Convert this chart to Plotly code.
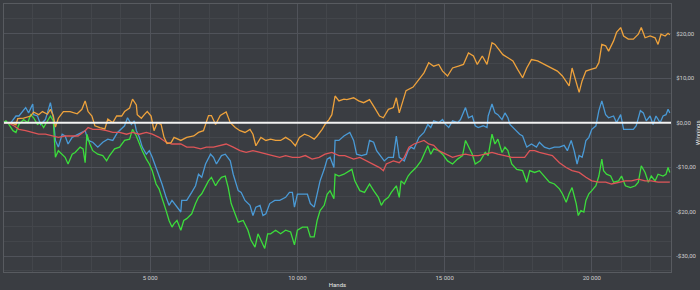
import plotly.graph_objects as go

# ---- data (hands, dollars) ----
orange_hands = [0, 100, 270, 440, 500, 700, 940, 1040, 1210, 1340, 1510, 1610, 1710, 1780, 1880, 2050, 2280, 2520, 2680, 2790, 2890, 3020, 3120, 3290, 3460, 3560, 3730, 3860, 4030, 4130, 4300, 4400, 4530, 4560, 4700, 4800, 4900, 5030, 5130, 5240, 5370, 5470, 5570, 5710,
                5810, 6040, 6240, 6480, 6640, 6810, 6980, 7080, 7220, 7380, 7580, 7720, 7890, 8050, 8220, 8390, 8490, 8590, 8760, 8930, 9090, 9260, 9430, 9600, 9770, 9930, 10070, 10240, 10400, 10570, 10670, 10840, 10940, 11070, 11170, 11280, 11410, 11580,
                11680, 11910, 12080, 12250, 12450, 12620, 12790, 12920, 13090, 13260, 13360, 13460, 13590, 13690, 13930, 14090, 14300, 14460, 14630, 14800, 14930, 15100, 15270, 15470, 15640, 15810, 15980, 16110, 16280, 16440, 16610, 16710, 16810, 16980, 17150, 17320, 17480,
                17650, 17790, 17950, 18160, 18390, 18620, 18830, 19000, 19130, 19230, 19330, 19470, 19570, 19670, 19800, 19970, 20140, 20240, 20340, 20470, 20570, 20740, 20840, 20980, 21080, 21240, 21410, 21580, 21680, 21810, 21980, 22150, 22250, 22350, 22490, 22590, 22650]
orange_vals = [0, 0, 0, -0.5, 0.9, 1.0, 1.5, 2.4, 1.8, 2.5, 1.9, 3.0, 1.5, -1.0, 1.0, 2.5, 2.5, 2.0, 3.0, 4.9, 2.5, 1.5, -0.7, -1.1, -1.4, 0.8, 0, 1.5, 1.5, 2.5, 3.3, 5.3, 4.0, 1.8, 1.0, 1.8, 2.5, 1.5, -1.8, 0, -0.4, -3.3, -4.7, -4.5,
               -3.3, -4.0, -3.3, -3.0, -2.2, -1.8, 1.6, 1.6, -0.4, 1.6, 2.4, 0, -1.1, -1.8, -2.2, -1.5, -2.6, -5.2, -3.3, -4.0, -3.7, -4.0, -4.0, -3.3, -4.0, -5.2, -3.3, -2.6, -3.0, -3.7, -3.0, -1.5, -0.4, 0.7, 1.8, 6.0, 4.9, 5.3,
               5.2, 5.6, 4.9, 4.5, 5.2, 3.4, 1.5, 1.1, 3.0, 3.4, 5.6, 2.2, 5.2, 7.2, 8.0, 9.4, 11.2, 13.5, 12.7, 13.1, 11.6, 10.5, 12.3, 12.7, 13.1, 15.7, 15.0, 13.1, 15.0, 13.1, 18.0, 17.6, 16.8, 15.3, 14.6, 13.9, 12.0,
               10.1, 12.3, 14.2, 13.9, 13.1, 12.3, 11.6, 10.5, 9.4, 8.3, 12.3, 9.0, 6.8, 9.4, 11.6, 12.0, 12.3, 13.5, 17.6, 17.3, 16.1, 18.4, 20.3, 21.4, 19.5, 18.8, 18.8, 19.9, 21.4, 19.1, 19.5, 19.1, 17.6, 19.9, 19.5, 20.1, 19.8]

blue_hands = [0, 100, 270, 440, 540, 770, 870, 1010, 1040, 1170, 1280, 1440, 1610, 1710, 1780, 1880, 2010, 2110, 2210, 2350, 2550, 2790, 2890, 3050, 3220, 3390, 3560, 3730, 3890, 4130, 4230, 4360, 4460, 4530, 4630, 4730, 4870, 4970, 5070, 5200, 5300, 5400, 5540, 5640, 5740,
              5910, 6040, 6070, 6240, 6410, 6540, 6640, 6750, 6880, 7050, 7150, 7250, 7420, 7550, 7720, 7820, 7990, 8090, 8220, 8390, 8490, 8590, 8730, 8830, 8930, 9060, 9230, 9400, 9600, 9730, 9830, 9900, 10000, 10170, 10340, 10440, 10570, 10670, 10770, 10910, 11010, 11110, 11240, 11280, 11410, 11580,
              11680, 11780, 11910, 12010, 12180, 12350, 12450, 12590, 12690, 12850, 12950, 13090, 13260, 13360, 13460, 13630, 13760, 13860, 13960, 14130, 14300, 14430, 14530, 14630, 14800, 14930, 15030, 15140, 15270, 15440, 15540, 15710, 15810, 15940, 16040, 16140, 16310, 16440, 16480, 16610, 16710, 16810, 16950, 17050, 17150, 17220, 17320, 17450,
              17550, 17650, 17790, 17950, 18120, 18220, 18390, 18560, 18730, 18900, 19060, 19170, 19300, 19400, 19500, 19570, 19670, 19730, 19800, 19900, 20000, 20140, 20240, 20340, 20470, 20570, 20740, 20840, 20980, 21080, 21240, 21410, 21510, 21650, 21750, 21850, 21980, 22080, 22180, 22320, 22420, 22520, 22590, 22650]
blue_vals = [0, 0, 0, 1.5, 1.5, 3.4, 2.2, 4.2, 1.8, 1.5, -0.4, 0.7, 4.5, 1.1, -4.0, -5.5, -2.6, -3.0, -4.8, -3.3, -2.6, -1.8, -4.0, -4.4, -5.5, -4.4, -3.7, -4.0, -2.2, -0.7, 1.1, -0.4, 0.4, -1.8, -3.3, -5.5, -7.1, -6.3, -7.8, -10.1, -11.6, -13.8, -16.8, -18.6, -17.5,
             -19.0, -20.1, -17.5, -17.5, -15.7, -14.2, -11.6, -12.3, -9.3, -7.1, -7.8, -9.3, -7.4, -7.1, -8.6, -11.6, -15.3, -15.7, -17.5, -18.6, -20.9, -19.0, -18.6, -20.9, -20.5, -18.2, -17.5, -17.5, -16.8, -15.7, -15.7, -19.0, -16.1, -16.1, -16.1, -18.2, -19.0, -16.1, -13.1, -10.5, -8.2, -7.8, -10.1, -4.0, -4.0, -3.0,
             -2.6, -2.2, -4.0, -7.1, -7.4, -7.1, -4.0, -4.4, -6.3, -7.8, -8.6, -7.8, -7.8, -3.0, -7.8, -8.6, -6.3, -5.5, -5.9, -3.3, -2.2, -0.4, -1.1, 0.4, 0, 0.7, -0.4, -1.1, 0.4, 0, 0.7, 3.4, 1.1, 1.5, -0.7, -1.1, -0.7, -1.1, 1.5, 4.2, 2.2, 1.8, 0.7, 2.2, 1.1, -0.4, -1.1, -1.8,
             -2.6, -3.0, -5.5, -4.8, -5.5, -4.4, -5.5, -5.9, -5.5, -5.5, -5.1, -6.3, -4.0, -6.3, -9.3, -7.4, -7.8, -6.3, -4.0, -3.3, -1.5, -0.7, 2.7, 4.9, 1.8, 1.1, 1.5, 0, 1.8, -1.5, -1.5, -1.5, -0.7, 2.7, 2.2, 0.4, 1.5, -0.4, 1.5, 0, 1.5, 1.8, 3.0, 2.2]

green_hands = [0, 100, 200, 340, 440, 540, 700, 840, 940, 1040, 1170, 1280, 1380, 1510, 1610, 1710, 1780, 1880, 2010, 2110, 2210, 2350, 2450, 2620, 2720, 2790, 2850, 2950, 3050, 3220, 3390, 3520, 3620, 3790, 3960, 4130, 4300, 4400, 4530, 4630, 4730, 4870, 4970, 5070, 5200, 5300, 5400, 5540, 5640, 5740,
               5810, 5910, 6040, 6140, 6240, 6410, 6540, 6640, 6750, 6880, 6980, 7080, 7220, 7320, 7420, 7550, 7650, 7750, 7890, 7990, 8160, 8320, 8420, 8560, 8660, 8760, 8890, 8990, 9090, 9260, 9430, 9600, 9770, 9900, 10000, 10170, 10340, 10440, 10570, 10670, 10770, 10910, 11010, 11110, 11240, 11280, 11410, 11580,
               11680, 11850, 11950, 12120, 12280, 12450, 12590, 12750, 12850, 12950, 13090, 13190, 13360, 13460, 13520, 13630, 13760, 13860, 14030, 14200, 14300, 14430, 14530, 14630, 14800, 14930, 15100, 15270, 15440, 15610, 15710, 15810, 15940, 16040, 16210, 16380, 16480, 16610, 16710, 16810, 16950, 17050, 17150, 17280, 17450,
               17650, 17790, 17890, 18060, 18220, 18390, 18560, 18730, 18900, 19000, 19130, 19230, 19330, 19470, 19540, 19630, 19730, 19800, 19900, 20000, 20140, 20240, 20340, 20400, 20500, 20640, 20740, 20910, 21010, 21140, 21310, 21480, 21580, 21680, 21810, 21920, 22020, 22150, 22250, 22420, 22520, 22590, 22650]
green_vals = [0, 0.4, -0.4, -1.8, -2.2, -0.4, 0.7, 0, 1.8, 1.1, -0.4, 0, -1.1, 0.4, 1.5, 0.4, -7.8, -6.3, -7.1, -7.8, -9.3, -7.1, -6.7, -5.5, -5.9, -9.0, -2.6, -4.8, -6.3, -7.1, -7.4, -8.6, -7.4, -5.9, -5.5, -4.0, -3.7, -1.5, -3.0, -4.8, -6.3, -8.2, -9.3, -10.8, -13.8, -14.9, -16.8, -19.8, -22.0, -23.5,
              -22.7, -22.0, -24.2, -22.0, -21.6, -20.5, -18.2, -16.8, -16.0, -14.2, -13.1, -12.3, -14.2, -13.1, -12.3, -12.0, -14.6, -18.2, -20.5, -22.4, -22.0, -24.2, -26.4, -28.0, -25.0, -26.4, -28.3, -25.0, -25.0, -24.2, -25.0, -24.2, -24.6, -27.5, -24.2, -23.5, -23.5, -25.7, -25.7, -22.0, -19.8, -18.6, -16.1, -15.3, -17.1, -11.6, -12.0, -11.6,
              -11.2, -10.5, -13.1, -15.3, -15.7, -13.8, -15.3, -16.8, -18.6, -17.5, -16.8, -15.7, -14.2, -16.8, -13.1, -13.8, -12.0, -11.2, -10.1, -8.6, -7.1, -5.2, -7.1, -5.9, -6.3, -7.1, -8.6, -9.3, -8.2, -7.4, -4.0, -5.5, -7.1, -9.3, -8.6, -6.7, -7.4, -2.6, -4.8, -3.7, -6.7, -5.5, -6.3, -9.3, -10.5,
              -10.8, -13.4, -10.8, -11.2, -10.8, -12.0, -13.4, -13.8, -14.9, -16.0, -17.9, -16.0, -14.6, -18.2, -20.9, -19.8, -20.1, -17.5, -16.0, -15.3, -14.2, -12.0, -8.2, -10.8, -11.6, -12.0, -13.4, -13.1, -12.0, -14.2, -14.6, -14.2, -13.4, -9.7, -11.2, -13.4, -12.0, -13.1, -11.6, -12.0, -11.6, -10.1, -11.2]

red_hands = [0, 170, 370, 540, 770, 1010, 1210, 1440, 1680, 1880, 2110, 2350, 2550, 2790, 2890, 3050, 3290, 3520, 3730, 3960, 4200, 4400, 4630, 4870, 5070, 5300, 5540, 5740,
             6040, 6240, 6480, 6710, 6910, 7150, 7380, 7580, 7820, 8050, 8260, 8490, 8730, 8930, 9160, 9400, 9600, 9830, 10070, 10270, 10500, 10740, 10940, 11170, 11410, 11610,
             11910, 12120, 12350, 12590, 12790, 12920, 13020, 13260, 13460, 13630, 13790, 13960, 14130, 14300, 14460, 14630, 14800, 15030, 15270, 15470, 15710, 15940, 16140, 16380, 16610, 16810, 17050, 17280, 17480,
             17720, 17890, 18060, 18220, 18460, 18660, 18900, 19130, 19330, 19570, 19800, 20000, 20240, 20470, 20670, 20910, 21140, 21350, 21580, 21810, 22020, 22250, 22490, 22650]
red_vals = [0, 0, -0.7, -1.5, -1.8, -2.2, -2.6, -2.6, -3.0, -3.3, -3.0, -3.0, -3.0, -1.8, -1.1, -1.5, -1.5, -1.8, -2.2, -2.2, -2.6, -2.2, -2.6, -2.2, -2.6, -3.3, -4.4, -4.8,
            -4.8, -5.5, -5.5, -5.9, -5.5, -5.5, -5.1, -4.8, -5.5, -6.3, -6.7, -6.3, -6.7, -7.1, -7.4, -7.8, -7.4, -7.8, -7.8, -7.4, -8.2, -7.8, -7.1, -6.7, -7.4, -7.4,
            -8.2, -7.8, -8.6, -9.3, -10.1, -10.8, -9.3, -8.6, -9.0, -7.8, -5.5, -4.8, -4.4, -4.0, -4.8, -5.1, -6.3, -7.1, -7.8, -7.4, -7.1, -7.4, -7.4, -7.1, -6.7, -7.1, -7.4, -7.8, -7.8,
            -7.8, -6.3, -6.3, -6.7, -7.1, -7.4, -9.0, -10.1, -10.8, -11.2, -12.3, -13.1, -13.4, -13.4, -13.8, -13.4, -13.1, -13.1, -12.7, -13.1, -13.1, -13.4, -13.4, -13.4]

x_tick_vals = [5000, 10000, 15000, 20000]
x_tick_text = ["5 000", "10 000", "15 000", "20 000"]
y_tick_vals = [-30, -20, -10, 0, 10, 20]
y_tick_text = ["-$30,00", "-$20,00", "-$10,00", "$0,00", "$10,00", "$20,00"]

BG = "#3a3d42"
fig = go.Figure()
series = [
    (blue_hands, blue_vals, "#4a9ad6"),
    (green_hands, green_vals, "#3cdc3c"),
    (red_hands, red_vals, "#de5558"),
    (orange_hands, orange_vals, "#eea23c"),
]
for xs, ys, col in series:
    fig.add_trace(go.Scatter(x=xs, y=ys, mode="lines", line=dict(color=col, width=1.3),
                             showlegend=False, hoverinfo="skip"))

fig.add_shape(type="line", xref="paper", yref="y", x0=0, x1=1, y0=0, y1=0,
              line=dict(color="#f2f2f2", width=2), layer="above")

fig.update_layout(
    width=700, height=290,
    margin=dict(l=3, r=22, t=3, b=18),
    paper_bgcolor=BG, plot_bgcolor=BG,
    font=dict(family="Roboto, Arial, sans-serif", color="#d0d0d0", size=6),
    xaxis=dict(range=[34, 22690], tickmode="array", tickvals=x_tick_vals, ticktext=x_tick_text,
               showgrid=True, gridcolor="#50535a", gridwidth=1, zeroline=False,
               minor=dict(tickmode="linear", tick0=0, dtick=1000, showgrid=True, gridcolor="#43464b", gridwidth=1),
               showline=True, mirror=True, linecolor="#585b60", linewidth=1,
               ticks="", tickfont=dict(size=6, color="#d0d0d0"),
               title=dict(text="Hands", font=dict(size=6, color="#e8e8e8"), standoff=2)),
    yaxis=dict(range=[-33.6, 26.7], side="right", tickmode="array", tickvals=y_tick_vals, ticktext=y_tick_text,
               showgrid=True, gridcolor="#50535a", gridwidth=1, zeroline=False,
               minor=dict(tickmode="linear", tick0=0, dtick=10/3, showgrid=True, gridcolor="#43464b", gridwidth=1),
               showline=True, mirror=True, linecolor="#585b60", linewidth=1,
               ticks="", ticklabelstandoff=3, tickfont=dict(size=6, color="#d0d0d0")),
)
fig.add_annotation(text="Winnings", xref="paper", yref="paper", x=1, y=0.52, xshift=21,
                   xanchor="left", yanchor="middle", textangle=-90, showarrow=False,
                   font=dict(size=6, color="#e8e8e8"))

fig.write_html("out.html")
